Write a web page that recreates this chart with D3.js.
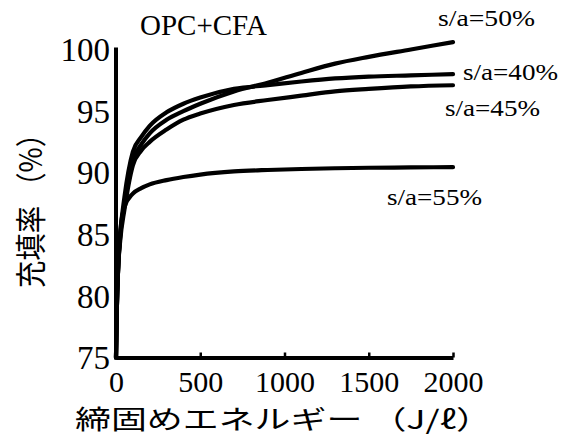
<!DOCTYPE html>
<html>
<head>
<meta charset="utf-8">
<script src="https://cdn.jsdelivr.net/npm/d3@7"></script>
<style>
  body { margin: 0; background: #fff; }
  svg { display: block; }
</style>
</head>
<body>
<div class="chart"></div>
<script>
const width = 574;
const height = 438;
const serif = "'Liberation Serif', 'Times New Roman', serif";

// compaction energy (J/l) where values were read
const energy = [0, 5, 12, 25, 50, 100, 150, 200, 300, 400, 500, 700, 900, 1100, 1300, 1500, 1750, 2000];

// filling ratio (%) per s/a ratio
const sa40 = [75, 79, 82, 85, 88, 91.7, 92.9, 93.8, 94.9, 95.6, 96.1, 96.8, 97.1, 97.4, 97.65, 97.8, 97.9, 98.0];
const sa45 = [75, 79, 82, 84.5, 87, 90.6, 91.8, 92.5, 93.5, 94.3, 94.8, 95.5, 95.9, 96.25, 96.6, 96.8, 97.0, 97.1];
const sa50 = [75, 79, 82, 84.8, 87.5, 91.0, 92.3, 93.2, 94.3, 95.0, 95.6, 96.6, 97.3, 98.1, 98.85, 99.4, 100.0, 100.6];
const sa55 = [75, 79, 82, 85.2, 87.2, 88.3, 88.75, 89.05, 89.4, 89.65, 89.85, 90.1, 90.22, 90.3, 90.36, 90.4, 90.43, 90.45];

const seriesNames = ["s/a=50%", "s/a=40%", "s/a=45%", "s/a=55%"];
const seriesValues = [sa50, sa40, sa45, sa55];

const xTicks = [0, 500, 1000, 1500, 2000];
const yTicks = [75, 80, 85, 90, 95, 100];

const x = d3.scaleLinear().domain([0, 2000]).range([116, 453]);
const y = d3.scaleLinear().domain([75, 100]).range([357.5, 49.5]);

const svg = d3.select(".chart").append("svg")
  .attr("width", width)
  .attr("height", height);

// curves first, axes drawn on top
const line = d3.line()
  .x((d, i) => x(energy[i]))
  .y(d => y(d))
  .curve(d3.curveMonotoneX);

svg.append("g")
  .selectAll("path")
  .data(seriesValues)
  .join("path")
  .attr("d", line)
  .attr("fill", "none")
  .attr("stroke", "#000")
  .attr("stroke-width", 4.2)
  .attr("stroke-linecap", "round");

// x axis with small inward ticks
const xAxis = svg.append("g")
  .attr("transform", `translate(0,${y(75)})`)
  .call(d3.axisBottom(x).tickValues(xTicks).tickFormat(d3.format("d"))
    .tickSize(-5).tickSizeOuter(0).tickPadding(13));
xAxis.attr("font-family", null).attr("font-size", null);
xAxis.select(".domain").attr("stroke-width", 4);
xAxis.selectAll(".tick line").attr("stroke-width", 2.5);
xAxis.selectAll(".tick text")
  .style("font-family", serif)
  .style("font-size", "30px")
  .attr("fill", "#000");

// y axis without tick marks
const yAxis = svg.append("g")
  .attr("transform", `translate(${x(0)},0)`)
  .call(d3.axisLeft(y).tickValues(yTicks).tickSize(0).tickPadding(6));
yAxis.attr("font-family", null).attr("font-size", null);
yAxis.select(".domain").attr("stroke-width", 4).attr("d", `M0,${y(75) + 2}V${y(100) - 2}`);
yAxis.selectAll(".tick text")
  .style("font-family", serif)
  .style("font-size", "33px")
  .attr("dy", "0.34em")
  .attr("fill", "#000");

// title
svg.append("text")
  .attr("x", 140).attr("y", 35)
  .style("font-family", serif)
  .style("font-size", "29px")
  .attr("textLength", 127)
  .attr("lengthAdjust", "spacingAndGlyphs")
  .text("OPC+CFA");

// series labels
const labelPos = [
  { x: 438, y: 26, w: 97 },
  { x: 463, y: 80, w: 95 },
  { x: 445, y: 116, w: 95 },
  { x: 387, y: 205, w: 95 }
];
svg.append("g")
  .selectAll("text")
  .data(seriesNames)
  .join("text")
  .attr("x", (d, i) => labelPos[i].x)
  .attr("y", (d, i) => labelPos[i].y)
  .attr("textLength", (d, i) => labelPos[i].w)
  .attr("lengthAdjust", "spacingAndGlyphs")
  .style("font-family", serif)
  .style("font-size", "23px")
  .text(d => d);

// axis titles
svg.append("text")
  .attr("x", 75).attr("y", 429)
  .style("font-family", "'Noto Sans CJK JP', sans-serif")
  .style("font-size", "26px")
  .attr("textLength", 417)
  .attr("lengthAdjust", "spacingAndGlyphs")
  .text("締固めエネルギー （J/ℓ）");

svg.append("text")
  .attr("transform", "translate(42,288) rotate(-90)")
  .style("font-family", "'Noto Sans CJK JP', sans-serif")
  .style("font-size", "31px")
  .attr("textLength", 168)
  .attr("lengthAdjust", "spacingAndGlyphs")
  .text("充填率 （%）");
</script>
</body>
</html>
